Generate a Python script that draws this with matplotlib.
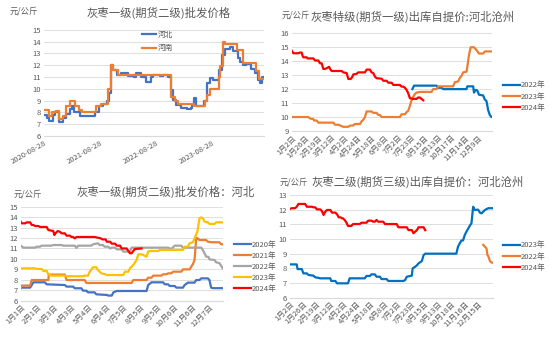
import numpy as np
import pandas as pd
import matplotlib
matplotlib.use("Agg")
import matplotlib.pyplot as plt
import matplotlib.dates as mdates

plt.rcParams['font.family'] = ['Noto Sans CJK SC', 'DejaVu Sans']

# ---- 灰枣一级批发价格 (河北 / 河南) ----
hb_dates = ["2020-08-28", "2020-09-14", "2020-10-02", "2020-10-28", "2020-11-08", "2020-12-06",
            "2021-01-01", "2021-01-18", "2021-02-14", "2021-02-24", "2021-03-14", "2021-04-20",
            "2021-07-27", "2021-08-24", "2021-09-19", "2021-10-11", "2021-10-28", "2021-11-08",
            "2021-11-23", "2021-12-19", "2022-01-16", "2022-03-01", "2022-04-09", "2022-04-24",
            "2022-05-27", "2022-06-24", "2022-07-31", "2022-08-11", "2022-09-23", "2022-10-15",
            "2022-11-16", "2022-12-04", "2022-12-19", "2023-01-10", "2023-02-12", "2023-03-20",
            "2023-04-18", "2023-04-24", "2023-05-07", "2023-05-20", "2023-07-07", "2023-07-29",
            "2023-08-20", "2023-09-06", "2023-10-15", "2023-11-06", "2023-11-21", "2023-12-24",
            "2024-01-14", "2024-02-16", "2024-03-03", "2024-03-20", "2024-04-11", "2024-05-13",
            "2024-06-10", "2024-06-25", "2024-07-11", "2024-07-24", "2024-08-05"]
hb_price = [7.8, 7.5, 7.3, 7.8, 8.05, 7.2,
            7.5, 7.9, 8.3, 8.5, 8.0, 7.7,
            8.0, 8.5, 8.7, 9.0, 9.6, 12.0,
            11.6, 11.15, 11.3, 11.1, 11.0, 11.3,
            11.0, 10.6, 11.0, 11.2, 11.1, 11.2,
            11.0, 9.9, 9.05, 8.6, 8.4, 8.3,
            8.4, 8.6, 9.2, 8.5, 9.0, 10.45,
            10.9, 10.7, 11.6, 12.9, 13.4, 13.5,
            13.2, 12.6, 12.3, 12.0, 12.1, 11.7,
            11.3, 10.7, 10.5, 11.0, 11.0]

hn_dates = ["2020-08-28", "2020-10-02", "2020-10-17", "2020-11-14", "2020-12-06", "2021-01-01",
            "2021-01-18", "2021-02-14", "2021-03-20", "2021-04-11", "2021-05-01", "2021-08-02",
            "2021-09-02", "2021-10-21", "2021-11-06", "2021-11-23", "2021-12-26", "2022-11-28",
            "2022-12-09", "2022-12-30", "2023-01-21", "2023-05-03", "2023-07-14", "2023-07-29",
            "2023-08-15", "2023-10-15", "2023-10-24", "2023-11-10", "2023-11-21", "2024-02-09",
            "2024-03-20", "2024-06-15", "2024-07-06", "2024-08-05"]
hn_price = [8.2, 7.7, 8.0, 8.1, 7.4, 7.7,
            8.5, 9.0, 8.5, 8.2, 8.0, 8.5,
            8.7, 10.0, 12.0, 11.6, 11.2, 11.2,
            9.3, 9.0, 8.75, 8.5, 9.0, 9.5,
            10.0, 11.0, 11.9, 14.0, 13.8, 13.3,
            12.2, 11.5, 10.8, 10.8]

# ---- 灰枣特级出库自提价 河北沧州 (trading-day index) ----
tj_ticks = ["1月2日", "1月26日", "2月19日", "3月12日", "4月2日", "4月24日", "5月18日", "6月8日",
            "7月2日", "7月23日", "8月15日", "9月13日", "10月17日", "11月14日", "12月9日"]
tj22_x = [145, 147, 174, 176, 180, 182, 210, 211, 218, 219, 221, 223, 225, 230, 232, 234, 236, 238, 240, 241]
tj22_y = [12.0, 12.25, 12.25, 12.1, 12.1, 12.0, 12.0, 12.2, 12.2, 11.75, 11.95, 11.9, 11.6, 11.55,
          11.25, 11.15, 10.5, 10.15, 10.0, 10.0]
tj23_x = [0, 20, 22, 26, 27, 30, 32, 50, 52, 56, 58, 62, 68, 70, 74, 76, 82, 84, 86, 88, 90, 96,
          98, 102, 104, 106, 108, 130, 132, 136, 138, 140, 142, 144, 146, 148, 150, 154, 168, 170,
          174, 176, 194, 196, 200, 202, 204, 206, 210, 211, 213, 215, 219, 222, 225, 230, 232, 241]
tj23_y = [10.0, 10.0, 9.9, 9.85, 9.75, 9.75, 9.6, 9.6, 9.45, 9.45, 9.4, 9.3, 9.3, 9.38, 9.4, 9.5,
          9.5, 9.7, 9.8, 10.0, 10.4, 10.4, 10.3, 10.3, 10.15, 10.15, 10.0, 10.0, 10.2, 10.2, 10.35,
          10.45, 10.8, 11.2, 11.45, 11.65, 11.75, 11.8, 11.8, 12.0, 12.0, 12.2, 12.2, 12.5, 12.55,
          12.8, 12.95, 13.2, 13.25, 13.6, 14.45, 15.0, 15.0, 14.8, 14.55, 14.55, 14.7, 14.7]
tj24_x = [0, 2, 8, 10, 12, 13, 14, 18, 19, 26, 28, 32, 34, 36, 38, 40, 42, 45, 46, 48, 60, 62,
          66, 68, 71, 73, 74, 78, 80, 88, 90, 94, 96, 98, 100, 102, 108, 110, 114, 116, 120, 122,
          130, 132, 134, 136, 138, 140, 142, 146, 150, 152, 154, 156, 158]
tj24_y = [14.76, 14.57, 14.57, 14.62, 14.62, 14.4, 14.28, 14.28, 14.2, 14.2, 14.05, 14.05, 13.85,
          13.85, 13.45, 13.45, 13.5, 13.6, 13.45, 13.3, 13.3, 13.2, 13.15, 12.73, 12.73, 12.9,
          13.05, 13.1, 13.2, 13.2, 13.4, 13.4, 13.2, 13.15, 12.9, 12.78, 12.75, 12.6, 12.6, 12.46,
          12.46, 12.3, 12.3, 12.18, 12.18, 12.1, 11.95, 11.7, 11.35, 11.3, 11.3, 11.4, 11.4, 11.3,
          11.2]

# ---- 灰枣一级批发价格 河北 分年 (day of year) ----
hb_ticks = ["1月1日", "2月1日", "3月3日", "4月3日", "5月4日", "6月4日", "7月5日", "8月5日",
            "9月5日", "10月6日", "11月6日", "12月7日"]
y20_x = [0, 2, 17, 20, 23, 44, 47, 80, 83, 95, 98, 110, 113, 119, 122, 134, 137, 156, 159, 165,
         168, 174, 228, 231, 237, 258, 261, 267, 270, 279, 282, 294, 297, 303, 315, 318, 324, 327,
         339, 342, 345, 348, 366]
y20_y = [7.19, 7.25, 7.25, 7.5, 7.76, 7.76, 7.57, 7.5, 7.35, 7.35, 7.19, 7.19, 6.96, 6.96, 6.8,
         6.8, 6.61, 6.55, 6.49, 6.49, 6.8, 6.93, 6.93, 7.5, 7.76, 7.76, 7.57, 7.57, 7.41, 7.41,
         7.25, 7.25, 7.5, 7.73, 7.73, 7.98, 7.98, 8.14, 8.14, 7.98, 7.25, 7.2, 7.2]
y21_x = [0, 1, 17, 20, 50, 51, 80, 83, 116, 119, 201, 204, 228, 231, 237, 240, 255, 258, 264,
         267, 273, 276, 291, 294, 306, 309, 312, 315, 318, 320, 324, 336, 339, 345, 360, 363, 366]
y21_y = [7.2, 7.45, 7.45, 7.98, 7.98, 8.5, 8.5, 7.98, 7.98, 7.7, 7.7, 7.98, 7.98, 8.2, 8.2, 8.4,
         8.4, 8.53, 8.53, 8.62, 8.62, 8.78, 8.78, 9.0, 9.0, 9.26, 9.5, 9.9, 11.97, 12.0, 11.81,
         11.81, 11.65, 11.6, 11.59, 11.4, 11.4]
y22_x = [0, 5, 26, 29, 35, 38, 56, 59, 74, 77, 98, 101, 104, 128, 131, 140, 143, 149, 152, 159,
         162, 165, 171, 174, 183, 186, 198, 201, 267, 270, 274, 279, 291, 294, 327, 330, 333, 336,
         340, 342, 351, 354, 360, 363, 366]
y22_y = [11.27, 11.08, 11.08, 11.17, 11.17, 11.27, 11.27, 11.33, 11.33, 11.27, 11.27, 11.05,
         11.27, 11.27, 11.4, 11.49, 11.33, 11.33, 11.17, 11.17, 11.0, 11.08, 11.08, 10.92, 10.92,
         10.7, 10.7, 11.08, 11.08, 11.0, 11.0, 11.27, 11.27, 11.08, 11.08, 10.86, 10.54, 10.22,
         10.2, 9.96, 9.9, 9.68, 9.6, 9.36, 9.1]
y23_x = [0, 26, 29, 38, 41, 47, 50, 56, 80, 83, 113, 116, 122, 125, 131, 137, 140, 146, 152, 156,
         186, 189, 195, 198, 204, 210, 213, 219, 222, 228, 231, 234, 249, 252, 294, 297, 303, 306,
         312, 315, 320, 324, 327, 330, 333, 339, 342, 351, 354, 366]
y23_y = [9.1, 9.1, 9.04, 9.04, 8.85, 8.85, 8.53, 8.4, 8.4, 8.34, 8.34, 8.4, 8.4, 8.78, 9.2, 9.2,
         8.94, 8.62, 8.55, 8.46, 8.46, 8.78, 8.78, 9.1, 9.42, 9.9, 10.44, 10.44, 10.38, 10.2, 10.7,
         10.76, 10.76, 10.86, 10.86, 11.17, 11.17, 11.49, 11.6, 11.97, 12.6, 13.89, 13.98, 13.9,
         13.57, 13.5, 13.35, 13.35, 13.5, 13.5]
y24_x = [0, 1, 8, 11, 17, 20, 23, 26, 32, 35, 47, 50, 59, 61, 63, 67, 71, 74, 80, 83, 89, 92, 95,
         98, 101, 134, 145, 148, 154, 156, 162, 165, 171, 174, 180, 183, 192, 195, 198, 201, 204,
         207, 219]
y24_y = [13.57, 13.41, 13.41, 13.5, 13.5, 13.25, 13.25, 13.15, 13.15, 13.06, 13.06, 12.77, 12.67,
         12.29, 12.45, 12.67, 12.6, 12.45, 12.45, 12.23, 12.23, 12.1, 12.1, 11.97, 12.1, 12.1,
         11.97, 11.87, 11.87, 11.65, 11.65, 11.46, 11.46, 11.27, 11.27, 11.0, 11.0, 10.76, 10.54,
         10.54, 10.76, 10.95, 11.0]

# ---- 灰枣二级出库自提价 河北沧州 (trading-day index) ----
ej_ticks = ["1月2日", "1月26日", "2月19日", "3月12日", "4月2日", "4月24日", "5月18日", "6月8日",
            "7月2日", "7月23日", "8月15日", "9月13日", "10月18日", "11月16日", "12月15日"]
ej23_x = [0, 8, 9, 14, 16, 20, 22, 28, 30, 34, 36, 48, 49, 54, 56, 69, 71, 89, 91, 95, 97, 101,
          103, 107, 109, 115, 117, 135, 137, 139, 143, 145, 146, 149, 151, 153, 157, 159, 161, 198,
          200, 202, 204, 206, 208, 210, 212, 214, 216, 218, 220, 224, 226, 228, 230, 232, 236, 242]
ej23_y = [8.27, 8.27, 7.95, 7.95, 7.66, 7.66, 7.55, 7.5, 7.39, 7.35, 7.32, 7.32, 7.14, 7.14, 6.98,
          6.98, 7.32, 7.32, 7.48, 7.48, 7.59, 7.59, 7.43, 7.43, 7.27, 7.27, 7.14, 7.14, 7.2, 7.43,
          7.48, 7.5, 8.0, 8.11, 8.2, 8.34, 8.5, 8.9, 9.0, 9.0, 9.48, 9.7, 9.9, 9.9, 10.27, 10.5,
          10.7, 10.9, 11.07, 12.2, 11.98, 12.0, 11.8, 11.75, 11.86, 11.98, 12.1, 12.1]
ej22_x = [230, 232, 234, 235, 236, 238, 240, 242]
ej22_y = [9.6, 9.48, 9.35, 8.9, 8.84, 8.5, 8.39, 8.39]
ej24_x = [0, 2, 6, 8, 10, 18, 20, 26, 28, 30, 32, 36, 38, 40, 42, 44, 48, 50, 54, 56, 58, 60, 62,
          63, 65, 67, 69, 73, 75, 83, 85, 91, 93, 97, 99, 101, 103, 105, 111, 113, 127, 129, 139,
          141, 145, 147, 149, 151, 153, 159, 161]
ej24_y = [12.05, 12.1, 12.1, 12.2, 12.39, 12.39, 12.2, 12.2, 12.16, 12.16, 12.02, 12.02, 11.9,
          11.64, 11.86, 11.98, 11.98, 11.8, 11.8, 11.68, 11.48, 11.48, 11.41, 11.41, 11.3, 11.14,
          10.89, 10.89, 11.02, 11.02, 11.11, 11.11, 11.25, 11.25, 11.18, 11.18, 11.3, 11.18, 11.18,
          11.02, 11.02, 10.8, 10.8, 10.61, 10.61, 10.39, 10.5, 10.6, 10.8, 10.8, 10.6]

BLUE = '#4472C4'
BLUE2 = '#0070C0'
ORANGE = '#ED7D31'
GRAY = '#A5A5A5'
YELLOW = '#FFC000'
RED = '#FF0000'
TXT = '#595959'
GRID = '#D9D9D9'
LW = 1.6

fig = plt.figure(figsize=(5.5, 3.39), dpi=100)
W, H = 550.0, 339.0


def add_axes(x0, x1, ytop, ybot):
    return fig.add_axes([x0 / W, 1 - ybot / H, (x1 - x0) / W, (ybot - ytop) / H])


def style(ax, ymin, ymax):
    ax.set_ylim(ymin, ymax)
    ax.set_yticks(range(ymin, ymax + 1))
    for s in ['top', 'right', 'left']:
        ax.spines[s].set_visible(False)
    ax.spines['bottom'].set_color(GRID)
    ax.spines['bottom'].set_linewidth(0.8)
    ax.grid(axis='y', color=GRID, linewidth=0.6)
    ax.set_axisbelow(True)
    ax.tick_params(axis='both', length=0, colors=TXT, labelsize=5.5, pad=2)


def put_text(x, y, s, size, **kw):
    fig.text(x / W, 1 - y / H, s, fontsize=size, color=TXT, va='center', **kw)


def side_legend(ax, handles, labels, x, y, size=5.5, hlen=2.2, gap=0.4):
    ax.legend(handles, labels, loc='upper left', bbox_to_anchor=(x / W, 1 - y / H),
              bbox_transform=fig.transFigure, frameon=False, fontsize=size, labelcolor=TXT,
              handlelength=hlen, handletextpad=0.15, labelspacing=gap, borderpad=0,
              borderaxespad=0)


# Panel 1: wholesale price, Hebei vs Henan
ax1 = add_axes(44, 264, 29.7, 136)
p1, = ax1.plot(pd.to_datetime(hb_dates), hb_price, color=BLUE, lw=LW, drawstyle='steps-post')
p2, = ax1.plot(pd.to_datetime(hn_dates), hn_price, color=ORANGE, lw=LW, drawstyle='steps-post')
style(ax1, 6, 15)
ax1.set_xlim(pd.Timestamp("2020-08-28"), pd.Timestamp("2024-08-05"))
ax1.set_xticks(pd.to_datetime(["2020-08-28", "2021-08-28", "2022-08-28", "2023-08-28"]))
ax1.xaxis.set_major_formatter(mdates.DateFormatter('%Y-%m-%d'))
plt.setp(ax1.get_xticklabels(), rotation=30, ha='right', rotation_mode='anchor')
side_legend(ax1, [p1, p2], ["河北", "河南"], 141.7, 31, size=5.5, hlen=1.9, gap=0.71)
put_text(158.5, 13.3, "灰枣一级(期货二级)批发价格", 8.2, ha='center')
put_text(10, 11, "元/公斤", 6, ha='left')

# Panel 2: premium grade, Cangzhou
ax2 = add_axes(291.7, 492.3, 33.3, 131)
l22, = ax2.plot(tj22_x, tj22_y, color=BLUE2, lw=LW)
l23, = ax2.plot(tj23_x, tj23_y, color=ORANGE, lw=LW)
l24, = ax2.plot(tj24_x, tj24_y, color=RED, lw=LW)
style(ax2, 9, 16)
ax2.set_xlim(0, 241)
ax2.set_xticks(np.arange(len(tj_ticks)) * 16)
ax2.set_xticklabels(tj_ticks, rotation=45, ha='right', rotation_mode='anchor')
side_legend(ax2, [l22, l23, l24], ["2022年", "2023年", "2024年"], 503, 81.5)
put_text(412.5, 16.7, "灰枣特级(期货一级)出库自提价:河北沧州", 8.2, ha='center')
put_text(281.7, 15, "元/公斤", 6, ha='left')

# Panel 3: wholesale price, Hebei, by year
ax3 = add_axes(20.7, 222.7, 206.7, 300.7)
h3 = []
for xs, ys, c in [(y20_x, y20_y, BLUE), (y21_x, y21_y, ORANGE), (y22_x, y22_y, GRAY),
                  (y23_x, y23_y, YELLOW), (y24_x, y24_y, RED)]:
    h3.append(ax3.plot(xs, ys, color=c, lw=LW)[0])
style(ax3, 6, 15)
ax3.set_xlim(0, 366)
ax3.set_xticks(np.arange(len(hb_ticks)) * 31)
ax3.set_xticklabels(hb_ticks, rotation=45, ha='right', rotation_mode='anchor')
side_legend(ax3, h3, ["2020年", "2021年", "2022年", "2023年", "2024年"], 234, 240.5)
put_text(166, 191.7, "灰枣一级(期货二级)批发价格：河北", 8.2, ha='center')
put_text(13.3, 194, "元/公斤", 6, ha='left')

# Panel 4: second grade, Cangzhou
ax4 = add_axes(290, 493.3, 195, 297.7)
e23, = ax4.plot(ej23_x, ej23_y, color=BLUE2, lw=LW)
e22, = ax4.plot(ej22_x, ej22_y, color=ORANGE, lw=LW)
e24, = ax4.plot(ej24_x, ej24_y, color=RED, lw=LW)
style(ax4, 6, 13)
ax4.set_xlim(0, 242)
ax4.set_xticks(np.arange(len(ej_ticks)) * 16)
ax4.set_xticklabels(ej_ticks, rotation=45, ha='right', rotation_mode='anchor')
side_legend(ax4, [e23, e22, e24], ["2023年", "2022年", "2024年"], 503, 241.5)
put_text(417.5, 181.7, "灰枣二级(期货三级)出库自提价：河北沧州", 8.2, ha='center')
put_text(280, 181.7, "元/公斤", 6, ha='left')

fig.savefig("out.png", dpi=100)
